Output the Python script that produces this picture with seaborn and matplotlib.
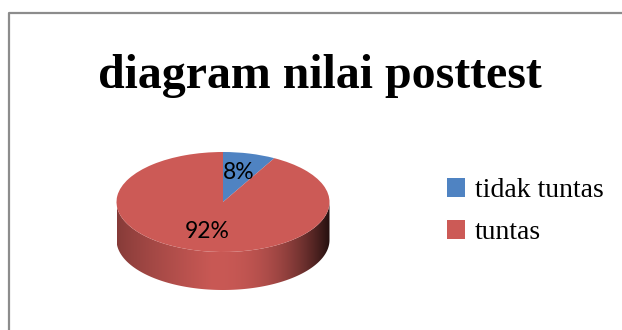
import numpy as np
import matplotlib
matplotlib.use("Agg")
import matplotlib.pyplot as plt
from matplotlib.lines import Line2D
from matplotlib.patches import Polygon
import matplotlib.colors as mcolors
import seaborn as sns

# ---- data ----
categories = ["tidak tuntas", "tuntas"]
values = [8, 92]
colors = ["#4F83C2", "#CC5A56"]
title = "diagram nilai posttest"

sns.set_theme(style="white")
plt.rcParams["font.family"] = ["DejaVu Sans"]
plt.rcParams["text.color"] = "black"

W, H = 622, 330
fig = plt.figure(figsize=(W / 100, H / 100), dpi=100)
fig.patch.set_facecolor("white")

# frame axes in pixel coordinates
fax = fig.add_axes([0, 0, 1, 1])
fax.set_xlim(0, W)
fax.set_ylim(H, 0)
fax.axis("off")
fax.add_line(Line2D([9, 9, W + 5], [H + 5, 13, 13], color="#8c8c8c", lw=1.6))
fax.text(320, 88, title, ha="center", va="baseline", color="black",
         fontfamily="Liberation Serif", fontweight="bold", fontsize=34.5)

# pie axes: 1 unit = rx px horizontally, ry px vertically
cx, cy, rx, ry, depth = 223, 202, 106.5, 50, 38
ax = fig.add_axes([0, 0, 1, 1], zorder=2)
ax.patch.set_alpha(0)
wedges, texts, autotexts = ax.pie(
    values, colors=colors, startangle=90, counterclock=False,
    autopct="%1.0f%%", pctdistance=0.6,
    wedgeprops=dict(linewidth=0, zorder=3),
    textprops=dict(fontfamily="Lato", fontsize=16.5, color="black"),
)
ax.set_aspect("auto")
ax.set_xlim(-cx / rx, (W - cx) / rx)
ax.set_ylim(-(H - cy) / ry, cy / ry)
ax.axis("off")
for t in autotexts:
    t.set_zorder(5)

# side of the 3D disk, derived from the wedge angles
d = depth / ry


def shade(x):
    u = (x + 1) / 2
    if u < 0.45:
        return 0.66 + 0.34 * (u / 0.45) ** 0.8
    return 1 - 0.82 * ((u - 0.45) / 0.55) ** 2.3


def wedge_for(t):
    tt = t % 360
    for w in wedges:
        a1, a2 = w.theta1 % 360, w.theta2 % 360
        if a1 <= a2:
            if a1 <= tt <= a2:
                return w
        elif tt >= a1 or tt <= a2:
            return w
    return wedges[-1]


xs = np.linspace(-1, 1, 600)
grad = np.zeros((2, len(xs), 3))
for i, x in enumerate(xs):
    t = 360 - np.degrees(np.arccos(x))
    base = np.array(mcolors.to_rgb(wedge_for(t).get_facecolor())) * 0.985
    grad[:, i, :] = np.clip(base * shade(x), 0, 1)

tt = np.radians(np.linspace(180, 360, 200))
top = np.column_stack([np.cos(tt), np.sin(tt)])
bot = np.column_stack([np.cos(tt[::-1]), np.sin(tt[::-1]) - d])
side = Polygon(np.vstack([top, bot]), closed=True, facecolor="none",
               edgecolor="none", transform=ax.transData)
ax.add_patch(side)
im = ax.imshow(grad, extent=(-1, 1, -1 - d, 0.05), aspect="auto",
               interpolation="bilinear", zorder=1)
im.set_clip_path(side)
ax.set_xlim(-cx / rx, (W - cx) / rx)
ax.set_ylim(-(H - cy) / ry, cy / ry)

# legend
leg = ax.legend(wedges, categories, loc="upper left",
                bbox_to_anchor=(447 / W, 1 - 178 / H),
                bbox_transform=fig.transFigure, frameon=False,
                prop=dict(family="Liberation Serif", size=20),
                handlelength=0.65, handleheight=0.65, handletextpad=0.36,
                labelspacing=0.61, borderpad=0, borderaxespad=0)
for t in leg.get_texts():
    t.set_color("black")

fig.savefig("out.png", dpi=100, facecolor="white")
